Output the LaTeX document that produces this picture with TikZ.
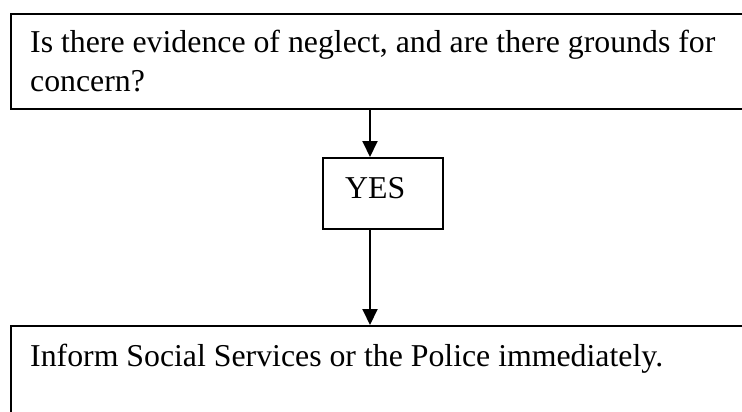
\documentclass[tikz,border=0pt]{standalone}
\usepackage{fontspec}
\setmainfont{Liberation Serif}
\usetikzlibrary{arrows.meta}
\begin{document}
\begin{tikzpicture}[x=1pt,y=-1pt,
  box/.style={draw=black,line width=2pt,rectangle,inner sep=0pt,anchor=north west},
  txt/.style={anchor=base west,inner sep=0pt,font=\fontsize{31.8}{38}\selectfont},
  arr/.style={line width=2pt,-{Triangle[length=16pt,width=15pt]}}]
\useasboundingbox (0,0) rectangle (742,412);
\clip (0,0) rectangle (742,412);
\node[box,minimum width=760pt,minimum height=95pt] (top) at (10,13) {};
\node[box,minimum width=120pt,minimum height=71pt] (yes) at (322,157) {};
\node[box,minimum width=760pt,minimum height=120pt] (bot) at (10,325) {};
\node[txt] (t1) at (30,53) {Is there evidence of neglect, and are there grounds for};
\node[txt] (t2) at (30,92) {concern?};
\node[txt] (ty) at (345,198) {YES};
\node[txt] (tb) at (30,366) {Inform Social Services or the Police immediately.};
\coordinate (ax) at (370,0);
\draw[arr] (top.south -| ax) -- (yes.north -| ax);
\draw[arr] (yes.south -| ax) -- (bot.north -| ax);
\end{tikzpicture}
\end{document}
